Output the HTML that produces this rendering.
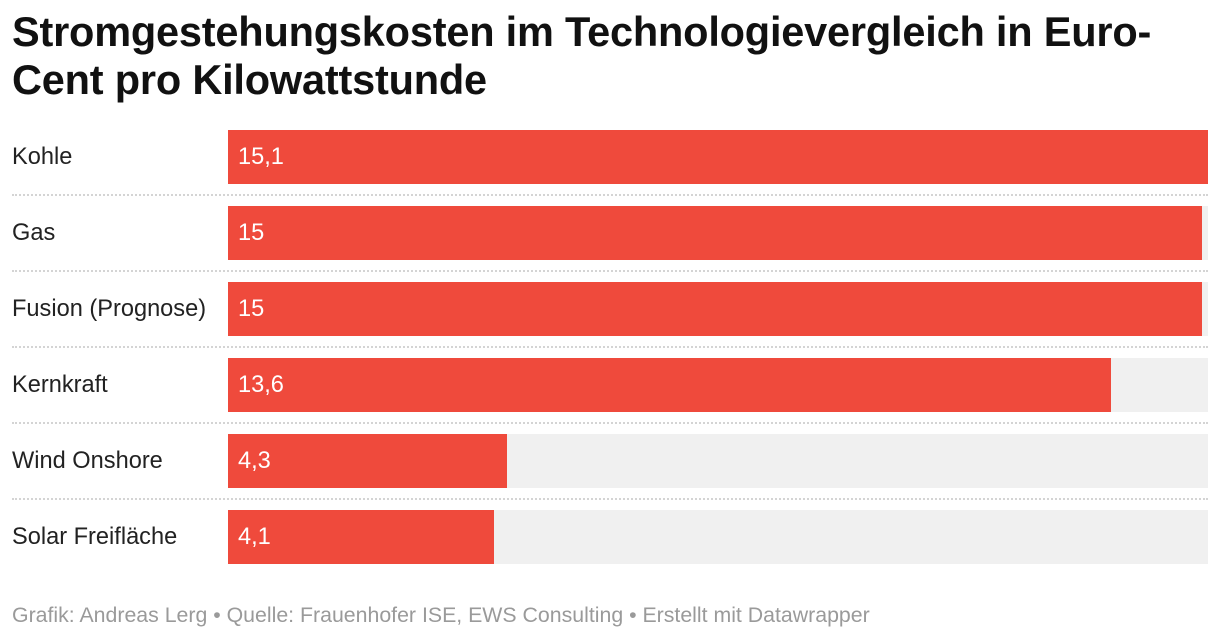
<!DOCTYPE html>
<html><head><meta charset="utf-8"><style>
body{margin:0;width:1220px;height:640px;background:#fff;font-family:"Liberation Sans",sans-serif;position:relative;overflow:hidden}
h1{position:absolute;left:12px;top:8px;margin:0;font-size:41.5px;line-height:48px;font-weight:bold;color:#111;width:1200px;white-space:nowrap;letter-spacing:-0.2px}
.row{position:absolute;left:0;width:1220px;height:54px}
.lab{position:absolute;left:12px;top:0;line-height:54px;font-size:23.6px;color:#222}
.bg{position:absolute;left:228px;width:980px;top:0;height:54px;background:#f0f0f0}
.bar{position:absolute;left:228px;top:0;height:54px;background:#ef4a3c}
.val{position:absolute;left:238px;top:0;line-height:54px;font-size:23.6px;color:#fff}
.sep{position:absolute;left:12px;width:1196px;border-top:2px dotted #d4d4d4;height:0}
.foot{position:absolute;left:12px;top:603px;font-size:21.3px;color:#9a9a9a}
</style></head><body>
<h1>Stromgestehungskosten im Technologievergleich in Euro-<br>Cent pro Kilowattstunde</h1>
<div id="chart"></div>
<div class="foot">Grafik: Andreas Lerg • Quelle: Frauenhofer ISE, EWS Consulting • Erstellt mit Datawrapper</div>
<script>
const categories=["Kohle","Gas","Fusion (Prognose)","Kernkraft","Wind Onshore","Solar Freifläche"];
const values=[15.1,15,15,13.6,4.3,4.1];
const valueLabels=["15,1","15","15","13,6","4,3","4,1"];
const maxV=15.1, plotW=980, top0=130, pitch=76;
const x=v=>v/maxV*plotW;
const c=document.getElementById('chart');
categories.forEach((cat,i)=>{
  const r=document.createElement('div');r.className='row';r.style.top=(top0+i*pitch)+'px';
  
  
  const l=document.createElement('div');l.className='lab';l.textContent=cat;
  
  
  const bg=document.createElement('div');bg.className='bg';
  
  
  const b=document.createElement('div');b.className='bar';b.style.width=x(values[i])+'px';
  
  
  const v=document.createElement('div');v.className='val';v.textContent=valueLabels[i];
  
  
  r.append(l,bg,b,v);c.appendChild(r);
  if(i<categories.length-1){
    const s=document.createElement('div');s.className='sep';s.style.top=(top0+i*pitch+64)+'px';
    
    
    c.appendChild(s);
  }
});
</script>
</body></html>
